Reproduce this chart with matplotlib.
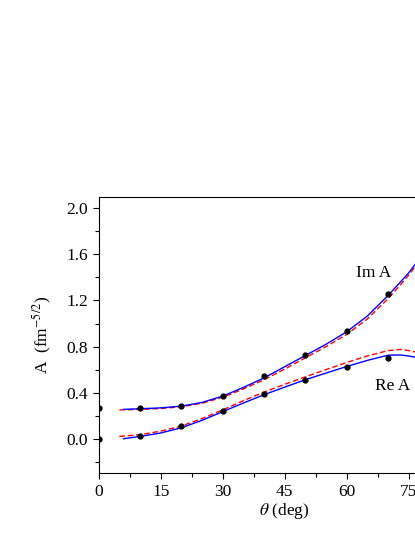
import numpy as np
import matplotlib
matplotlib.use('Agg')
import matplotlib.pyplot as plt

plt.rcParams['font.family'] = ['Liberation Serif', 'DejaVu Serif']
plt.rcParams['mathtext.fontset'] = 'stix'

# data points (theta in deg)
theta_pts = [0, 10, 20, 30, 40, 50, 60, 70]
im_pts = [0.265, 0.27, 0.287, 0.371, 0.542, 0.728, 0.937, 1.252]
re_pts = [0.0, 0.02, 0.107, 0.243, 0.389, 0.51, 0.626, 0.704]

# fitted curves
theta_blue = [6, 10, 15, 20, 25, 30, 35, 40, 45, 50, 55, 60, 65, 70, 73, 75, 78]
im_blue = [0.255, 0.26, 0.268, 0.283, 0.315, 0.37, 0.445, 0.528, 0.625, 0.722,
           0.82, 0.928, 1.065, 1.243, 1.36, 1.44, 1.58]
re_blue = [0.0, 0.02, 0.05, 0.095, 0.16, 0.235, 0.31, 0.382, 0.448, 0.512,
           0.57, 0.627, 0.68, 0.725, 0.727, 0.718, 0.698]

theta_red = [5, 10, 15, 20, 25, 30, 35, 40, 45, 50, 55, 60, 65, 70, 73, 75, 78]
im_red = [0.25, 0.255, 0.262, 0.278, 0.308, 0.36, 0.432, 0.512, 0.605, 0.702,
          0.80, 0.905, 1.04, 1.215, 1.335, 1.42, 1.56]
re_red = [0.02, 0.035, 0.066, 0.11, 0.175, 0.25, 0.33, 0.405, 0.472, 0.537,
          0.60, 0.662, 0.718, 0.765, 0.775, 0.765, 0.742]

fs = 12.5
fig = plt.figure(figsize=(4.15, 5.37), dpi=100)
ax = fig.add_axes([0.2378, 0.1186, 0.8964, 0.515])

ax.plot(theta_red, im_red, '--', color='red', lw=1.0, dashes=(4, 2))
ax.plot(theta_red, re_red, '--', color='red', lw=1.0, dashes=(4, 2))
ax.plot(theta_blue, im_blue, '-', color='blue', lw=1.0)
ax.plot(theta_blue, re_blue, '-', color='blue', lw=1.0)
ax.plot(theta_pts, im_pts, 'o', color='black', ms=3.5)
ax.plot(theta_pts, re_pts, 'o', color='black', ms=3.5)

ax.text(66.6, 1.435, 'Im A', fontsize=fs, ha='center', va='center')
ax.text(71.0, 0.46, 'Re A', fontsize=fs, ha='center', va='center')

ax.set_xlim(0, 90)
ax.set_ylim(-0.3, 2.1)
ax.set_xticks(np.arange(0, 91, 15))
ax.set_xticks(np.arange(0, 91, 7.5), minor=True)
ax.set_yticks(np.arange(0, 2.01, 0.4))
ax.set_yticks(np.arange(-0.2, 2.01, 0.2), minor=True)
ax.yaxis.set_major_formatter(matplotlib.ticker.FormatStrFormatter('%.1f'))
ax.tick_params(which='both', direction='out', labelsize=fs, width=0.8)
ax.tick_params(which='major', length=4)
ax.tick_params(which='minor', length=3)

ax.set_xlabel(r'$\theta$ (deg)', fontsize=fs, labelpad=1)
ax.set_ylabel(r'A  (fm$^{-5/2}$)', fontsize=fs)
ax.yaxis.set_label_coords(-0.12, 0.5)

fig.savefig('out.png', dpi=100)
